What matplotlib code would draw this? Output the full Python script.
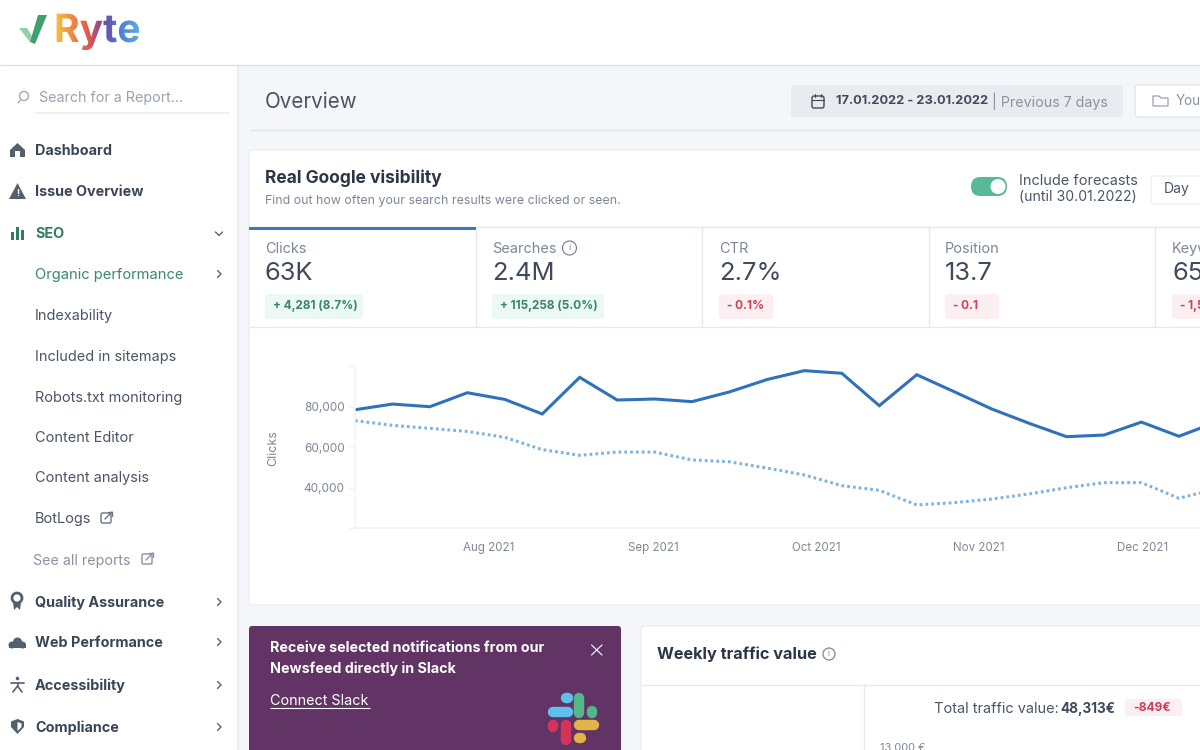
import numpy as np
import matplotlib
matplotlib.use('Agg')
import matplotlib.pyplot as plt
from matplotlib.patches import FancyBboxPatch, Rectangle, Circle, Polygon, PathPatch
from matplotlib.colors import LinearSegmentedColormap
from matplotlib.textpath import TextPath
from matplotlib.font_manager import FontProperties
from matplotlib.transforms import Affine2D

plt.rcParams['font.family'] = ['Inter', 'DejaVu Sans']

# chart data (weekly points)
clicks = [78400, 81200, 79900, 86800, 83500, 76300, 94400, 83200, 83700, 82400, 87200, 93300,
          97700, 96400, 80400, 95700, 87300, 78800, 71700, 65100, 65900, 72300, 65300, 72300]
clicks_prev = [73000, 70700, 69200, 67700, 64800, 58700, 55900, 57500, 57500, 53600, 52700, 49600,
               46200, 40900, 38600, 31400, 32500, 34300, 36800, 39900, 42400, 42400, 34700, 39300]
month_labels = ['Aug 2021', 'Sep 2021', 'Oct 2021', 'Nov 2021', 'Dec 2021']
month_pos = [3.58, 7.96, 12.31, 16.66, 21.03]
y_ticks = [20000, 40000, 60000, 80000, 100000]
y_labels = ['', '40,000', '60,000', '80,000', '']

# page content
menu_bold = [('Dashboard', 150), ('Issue Overview', 191), ('Quality Assurance', 602),
             ('Web Performance', 642), ('Accessibility', 685), ('Compliance', 727)]
menu_sub = [('Indexability', 315), ('Included in sitemaps', 356), ('Robots.txt monitoring', 397),
            ('Content Editor', 437), ('Content analysis', 477), ('BotLogs', 518)]
tab_names = ['Clicks', 'Searches', 'CTR', 'Position', 'Keywords']
tab_values = ['63K', '2.4M', '2.7%', '13.7', '65K']
tab_deltas = ['+ 4,281 (8.7%)', '+ 115,258 (5.0%)', '- 0.1%', '- 0.1', '- 1,5']
tab_x = [265, 492, 719, 945, 1172]
tab_badge_w = [98, 112, 54, 54, 60]

DARK = '#3f4a5c'
GRAY = '#7f8797'
LIGHT = '#e6e9ef'

fig = plt.figure(figsize=(12, 7.5), dpi=100, facecolor='#f5f6fa')
ax = fig.add_axes([0, 0, 1, 1])
ax.set_xlim(0, 1200)
ax.set_ylim(750, 0)
ax.axis('off')


def txt(x, y, s, px=14, color=DARK, weight='normal', ha='left', **kw):
    return ax.text(x, y + 1, s, fontsize=px * 0.72, color=color, fontweight=weight, ha=ha, va='center', **kw)


def box(x0, y0, x1, y1, color, edge='none', r=0.0, z=1):
    if r:
        p = FancyBboxPatch((x0 + r, y0 + r), x1 - x0 - 2 * r, y1 - y0 - 2 * r, boxstyle=f'round,pad={r},rounding_size={r}',
                           fc=color, ec=edge, lw=1, zorder=z)
    else:
        p = Rectangle((x0, y0), x1 - x0, y1 - y0, fc=color, ec=edge, lw=1, zorder=z)
    ax.add_patch(p)


def seg(xs, ys, color, lw=1.0, z=3, cap='round'):
    ax.plot(xs, ys, color=color, lw=lw, zorder=z, solid_capstyle=cap, solid_joinstyle='round')


# header + sidebar
box(0, 0, 1200, 65, 'white')
seg([0, 1200], [65, 65], '#dde1e8', 1, cap='butt')
box(0, 66, 237, 750, 'white')
box(237, 66, 239, 750, '#e9ecf1')

# logo
ax.add_patch(Polygon([(19, 28), (27, 28), (32, 36), (30, 42)], fc='#8ed3a8', ec='none', zorder=3))
ax.add_patch(Polygon([(38, 15), (47, 15), (35, 44), (30, 42)], fc='#3f9f70', ec='none', zorder=4))
logo_cm = LinearSegmentedColormap.from_list('logo', ['#f6c544', '#ee8f3e', '#e4574f', '#6a4aa6', '#4d86d6', '#63a9dc'])
im = ax.imshow(np.linspace(0, 1, 200)[None, :], cmap=logo_cm, extent=(54, 139, 50, 12), aspect='auto', zorder=3)
logo_path = TextPath((0, 0), 'Ryte', size=39, prop=FontProperties(family='Inter', weight='bold'))
logo_tf = Affine2D().scale(1, -1).translate(54, 42) + ax.transData
logo_patch = PathPatch(logo_path, transform=logo_tf, fc='none', ec='none')
ax.add_patch(logo_patch)
im.set_clip_path(logo_patch)
ax.set_xlim(0, 1200)
ax.set_ylim(750, 0)

# search
ax.add_patch(Circle((24, 96), 4.5, fc='none', ec='#9aa1b0', lw=0.9, zorder=3))
seg([20.5, 18], [100, 103], '#9aa1b0', 0.9)
txt(39, 97, 'Search for a Report...', 14.3, '#9aa1b0')
seg([36, 229], [113, 113], '#eceef3', 1.2)

# sidebar menu
for name, y in menu_bold:
    txt(35, y, name, 14.4, '#3a4557', 'bold')
txt(35, 233, 'SEO', 14.4, '#2f7d5b', 'bold')
txt(35, 274, 'Organic performance', 14.7, '#3a8a66')
for name, y in menu_sub:
    txt(35, y, name, 14.5, '#4a5466')
txt(33, 560, 'See all reports', 14.3, '#8a92a2')

# chevrons
for y in [274, 602, 642, 685, 727]:
    seg([217.5, 221, 217.5], [y - 3.5, y, y + 3.5], '#5a6474', 1.0)
seg([215.5, 219, 222.5], [232, 235.5, 232], '#5a6474', 1.0)

# sidebar icons
ic = '#55606f'
ax.add_patch(Polygon([(10, 150), (17.5, 143), (25, 150), (25, 157), (10, 157)], fc=ic, ec='none', zorder=3))
box(15, 151, 20, 157, 'white', z=4)
ax.add_patch(Polygon([(17.5, 183), (26, 199), (9, 199)], fc=ic, ec='none', closed=True, zorder=3))
txt(17.5, 192, '!', 9, 'white', 'bold', ha='center', zorder=4)
for bx, top in [(10.5, 232), (15.5, 227), (20.5, 230)]:
    box(bx, top, bx + 3.6, 240, '#2f7d5b', z=3)
ax.add_patch(Circle((17, 598), 5, fc='none', ec=ic, lw=2, zorder=3))
ax.add_patch(Polygon([(13, 602), (21, 602), (20, 610), (17, 607), (14, 610)], fc=ic, ec='none', zorder=3))
for cx, cy, r in [(12, 645, 3.5), (17.5, 642, 4.5), (22.5, 645, 3.5)]:
    ax.add_patch(Circle((cx, cy), r, fc=ic, ec='none', zorder=3))
box(9, 645, 26, 648, ic, z=3)
ax.add_patch(Circle((17.5, 678.5), 1.8, fc=ic, ec='none', zorder=3))
seg([11, 24], [682.5, 682.5], ic, 1.2)
seg([17.5, 17.5], [682.5, 686], ic, 1.2)
seg([13, 17.5, 22], [692, 686, 692], ic, 1.2)
ax.add_patch(Polygon([(17.5, 719), (24, 721.5), (24, 727), (17.5, 734), (11, 727), (11, 721.5)], fc=ic, ec='none', zorder=3))
ax.add_patch(Polygon([(17.5, 722), (21.5, 723.5), (21.5, 727), (17.5, 731)], fc='white', ec='none', zorder=4))
# external link icons
for bx, by, col in [(101, 513, '#6b7484'), (142, 554, '#8a92a2')]:
    box(bx, by, bx + 10, by + 10, 'none', edge=col, r=1.5, z=3)
    seg([bx + 4, bx + 11], [by + 6, by - 1], col, 1)
    seg([bx + 7, bx + 11, bx + 11], [by - 1, by - 1, by + 3], col, 1)

# top bar
txt(265, 101, 'Overview', 20.6, '#4a5568')
seg([249, 1200], [129.5, 129.5], '#e1e4ea', 1, cap='butt')
box(791, 85, 1123, 117, '#e8ebf0', r=3)
box(812, 96, 824, 108, 'none', edge=DARK, r=2, z=3)
seg([812, 824], [100, 100], DARK, 0.8)
seg([815, 815], [94, 97], DARK, 0.8)
seg([821, 821], [94, 97], DARK, 0.8)
txt(836, 100, '17.01.2022 - 23.01.2022', 12.8, DARK, 'bold')
txt(992, 100, '| Previous 7 days', 14.2, '#8a92a2')
box(1135, 85, 1240, 117, 'white', edge='#e3e6eb', r=3)
ax.add_patch(Polygon([(1153, 96), (1159, 96), (1161, 98), (1168, 98), (1168, 106), (1153, 106)], fc='none', ec='#9aa1b0', lw=0.9, zorder=3))
txt(1176, 100, 'You', 13.5, '#8a92a2')

# main card
box(249, 150, 1240, 605, 'white', edge='#eceef2', r=3)
txt(265, 177, 'Real Google visibility', 17.4, '#2c3646', 'bold')
txt(265, 200, 'Find out how often your search results were clicked or seen.', 12.4, GRAY)
box(971, 177, 1007, 196, '#56b998', r=9.5, z=3)
ax.add_patch(Circle((998, 186.5), 7.5, fc='white', ec='none', zorder=4))
txt(1019, 180, 'Include forecasts', 14.5, '#4a5568')
txt(1019, 196, '(until 30.01.2022)', 14, '#4a5568')
box(1151, 176, 1240, 204, 'white', edge='#eef0f4', r=3)
txt(1164, 188, 'Day', 14, '#4a5568')

# tabs
seg([249, 1200], [227, 227], LIGHT, 1, cap='butt')
seg([249, 1200], [327, 327], LIGHT, 1, cap='butt')
for vx in [476, 702, 929, 1155]:
    seg([vx, vx], [227, 327], LIGHT, 1, cap='butt')
box(249, 227, 476, 229.5, '#3a78c0', z=4)
for i, name in enumerate(tab_names):
    x = tab_x[i]
    up = tab_deltas[i].startswith('+')
    txt(x, 248, name, 14.5, GRAY)
    txt(x, 273, tab_values[i], 25.5, DARK)
    box(x, 294, x + tab_badge_w[i], 319, '#ecf8f2' if up else '#fbeff1', r=3)
    txt(x + 8, 305, tab_deltas[i], 11.8, '#3a8470' if up else '#cf3f58', 'bold')
ax.add_patch(Circle((569.5, 248), 7, fc='none', ec=GRAY, lw=0.9, zorder=3))
txt(569.5, 247, 'i', 9, GRAY, ha='center')

# slack card
box(249, 626, 621, 770, '#613465', r=3)
txt(270, 647, 'Receive selected notifications from our', 14.3, 'white', 'bold')
txt(270, 668, 'Newsfeed directly in Slack', 14.3, 'white', 'bold')
txt(270, 700, 'Connect Slack', 14.4, 'white')
seg([270, 370], [708, 708], 'white', 0.8, cap='butt')
seg([591.5, 602], [645, 655], 'white', 0.8)
seg([591.5, 602], [655, 645], 'white', 0.8)
# slack logo
for xs, ys, col in [([553, 568], [711.5, 711.5], '#5fc0eb'), ([579, 579], [698, 713], '#56b68b'),
                    ([592, 592], [711, 713], '#56b68b'), ([579, 594], [725, 725], '#e2b347'),
                    ([579, 581], [738, 738], '#e2b347'), ([566, 566], [725, 740], '#d4345c'),
                    ([553, 553], [725, 727], '#d4345c'), ([566, 568], [698, 698], '#5fc0eb')]:
    seg(xs, ys, col, 7.5)

# traffic value card
box(641, 626, 1240, 770, 'white', edge='#eceef2', r=3)
txt(657, 653, 'Weekly traffic value', 16.3, '#2c3646', 'bold')
ax.add_patch(Circle((829, 654), 6, fc='none', ec=GRAY, lw=0.9, zorder=3))
txt(829, 653, 'i', 8, GRAY, ha='center')
seg([641, 1200], [684.5, 684.5], LIGHT, 1, cap='butt')
seg([864, 864], [684, 750], LIGHT, 1, cap='butt')
txt(934, 708, 'Total traffic value:', 14.5, '#4a5568')
txt(1060, 708, '48,313€', 13.5, DARK, 'bold')
box(1125, 699, 1182, 716, '#fbeff1', r=3)
txt(1133, 707, '-849€', 12, '#cf3f58', 'bold')
txt(880, 747, '13,000 €', 11, GRAY)

# chart, axes placed on the page in pixels
W, H = 1200.0, 750.0
cx0, cx1, cy0, cy1 = 355.0, 1200.0, 366.0, 528.0
chart = fig.add_axes([cx0 / W, 1 - cy1 / H, (cx1 - cx0) / W, (cy1 - cy0) / H])
chart.patch.set_alpha(0)
weeks = np.arange(len(clicks))
chart.plot(weeks, clicks_prev, color='#7db3e0', lw=2.2, linestyle=(0, (0.9, 1.0)))
chart.plot(weeks, clicks, color='#2f72ba', lw=2.2, solid_joinstyle='miter')
chart.set_xlim(0, (cx1 - cx0) / 37.45)
chart.set_ylim(20000, 100000)
chart.set_yticks(y_ticks)
chart.set_yticklabels(y_labels)
chart.set_xticks(month_pos)
chart.set_xticklabels(month_labels)
chart.tick_params(axis='y', length=4, width=1, color='#f0f2f5', pad=3.5, labelsize=8.5, labelcolor=GRAY)
chart.tick_params(axis='x', length=0, pad=10, labelsize=8.3, labelcolor=GRAY)
for side in ['top', 'right']:
    chart.spines[side].set_visible(False)
for side in ['left', 'bottom']:
    chart.spines[side].set_color('#f0f2f5')
    chart.spines[side].set_linewidth(1.1)
fig.text(273 / W, 1 - 448 / H, 'Clicks', rotation=90, fontsize=9, color=GRAY, ha='center', va='center')

fig.savefig('out.png', dpi=100, facecolor=fig.get_facecolor())
